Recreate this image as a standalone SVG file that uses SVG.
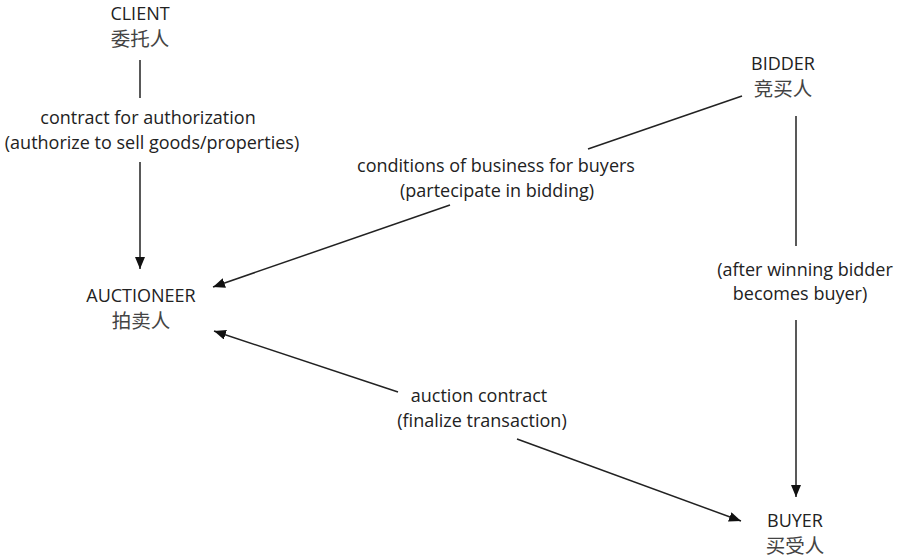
<svg xmlns="http://www.w3.org/2000/svg" width="897" height="558" viewBox="0 0 897 558">
<style>
text{font-family:"Open Sans","Noto Sans CJK SC",sans-serif;font-size:18px;fill:#222;text-anchor:middle}
text.cj{font-family:"Noto Sans CJK SC",sans-serif;font-size:19.5px;fill:#444}
.c{stroke:#222;stroke-width:1.5;fill:none}
</style>
<defs>
<marker id="ah" markerWidth="12" markerHeight="10" refX="12" refY="5" orient="auto" markerUnits="userSpaceOnUse">
<path d="M0,0 L12,5 L0,10 Z" fill="#111"/>
</marker>
</defs>
<rect width="897" height="558" fill="#fff"/>
<g id="client"><text x="140" y="20">CLIENT</text><text class="cj" x="140" y="46">委托人</text></g>
<g id="auctioneer"><text x="141" y="302">AUCTIONEER</text><text class="cj" x="141" y="328">拍卖人</text></g>
<g id="bidder"><text x="783" y="70">BIDDER</text><text class="cj" x="783" y="96">竞买人</text></g>
<g id="buyer"><text x="795" y="527">BUYER</text><text class="cj" x="795" y="553">买受人</text></g>
<g id="connectors">
<line class="c" x1="140" y1="60" x2="140" y2="98"/>
<line class="c" x1="140" y1="162" x2="140" y2="269" marker-end="url(#ah)"/>
<line class="c" x1="742" y1="96" x2="588" y2="149"/>
<line class="c" x1="450" y1="205" x2="213" y2="287" marker-end="url(#ah)"/>
<line class="c" x1="796" y1="116" x2="796" y2="246"/>
<line class="c" x1="796" y1="320" x2="796" y2="497" marker-end="url(#ah)"/>
<line class="c" x1="398" y1="392" x2="214" y2="331" marker-end="url(#ah)"/>
<line class="c" x1="517" y1="439" x2="741" y2="521" marker-end="url(#ah)"/>
</g>
<g id="labels">
<text x="148" y="124">contract for authorization</text>
<text x="152" y="149">(authorize to sell goods/properties)</text>
<text x="496" y="172">conditions of business for buyers</text>
<text x="497" y="197">(partecipate in bidding)</text>
<text x="805" y="276">(after winning bidder</text>
<text x="800" y="300">becomes buyer)</text>
<text x="479" y="402">auction contract</text>
<text x="482" y="427">(finalize transaction)</text>
</g>
</svg>
